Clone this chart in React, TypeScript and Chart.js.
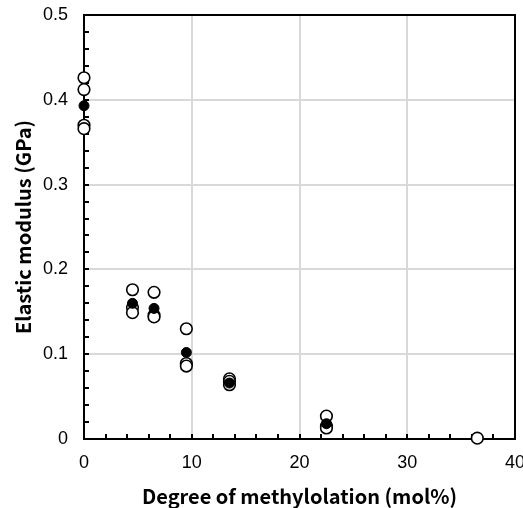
import React, { useEffect, useRef } from "react";
import { Chart, registerables } from "chart.js";

Chart.register(...registerables);

const openX = [0, 0, 0, 0, 4.5, 4.5, 4.5, 6.5, 6.5, 6.5, 9.5, 9.5, 9.5, 13.5, 13.5, 13.5, 22.5, 22.5, 22.5, 36.5];
const openY = [0.426, 0.412, 0.370, 0.366, 0.176, 0.155, 0.149, 0.173, 0.146, 0.144, 0.130, 0.089, 0.086, 0.071, 0.068, 0.064, 0.027, 0.015, 0.013, 0.001];
const filledX = [0, 4.5, 6.5, 9.5, 13.5, 22.5];
const filledY = [0.393, 0.160, 0.154, 0.102, 0.066, 0.018];

const xTitle = "Degree of methylolation (mol%)";
const yTitle = "Elastic modulus (GPa)";
const xRange = [0, 40];
const yRange = [0, 0.5];
const xMinorStep = 2;
const yMinorStep = 0.02;

const frame = {
  id: "frame",
  beforeDatasetsDraw(chart: any) {
    const { ctx, chartArea: a, scales } = chart;
    ctx.save();
    ctx.strokeStyle = "#000";
    ctx.lineWidth = 2;
    const xs = scales.x;
    const ys = scales.y;
    ctx.beginPath();
    for (let v = xRange[0]; v <= xRange[1] + 1e-9; v += xMinorStep) {
      const px = Math.round(xs.getPixelForValue(v));
      ctx.moveTo(px, a.bottom);
      ctx.lineTo(px, a.bottom - 5);
    }
    for (let v = yRange[0]; v <= yRange[1] + 1e-9; v += yMinorStep) {
      const py = Math.round(ys.getPixelForValue(v));
      ctx.moveTo(a.left, py);
      ctx.lineTo(a.left + 5, py);
    }
    ctx.stroke();
    ctx.strokeRect(a.left, a.top, a.right - a.left, a.bottom - a.top);
    ctx.restore();
  },
};

export default function App() {
  const ref = useRef<HTMLCanvasElement>(null);
  useEffect(() => {
    document.body.style.margin = "0";
    const chart = new Chart(ref.current!, {
      type: "scatter",
      data: {
        datasets: [
          {
            label: "filled",
            data: filledX.map((x, i) => ({ x, y: filledY[i] })),
            pointRadius: 5,
            pointBackgroundColor: "#000",
            pointBorderColor: "#000",
            pointBorderWidth: 1,
            order: 0,
            clip: false as any,
          },
          {
            label: "open",
            data: openX.map((x, i) => ({ x, y: openY[i] })),
            pointRadius: 5.8,
            pointBackgroundColor: "#fff",
            pointBorderColor: "#000",
            pointBorderWidth: 1.6,
            order: 1,
            clip: false as any,
          },
        ],
      },
      plugins: [frame],
      options: {
        animation: false,
        responsive: false,
        devicePixelRatio: 1,
        layout: { padding: { top: 15, right: 8, left: 0, bottom: 0 } },
        plugins: { legend: { display: false }, tooltip: { enabled: false } },
        scales: {
          x: {
            type: "linear",
            min: xRange[0],
            max: xRange[1],
            ticks: { stepSize: 10, color: "#000", padding: 13, font: { family: "Liberation Sans", size: 18 } },
            grid: { color: "#d9d9d9", lineWidth: 2, drawTicks: false },
            border: { display: false },
            title: { display: true, text: xTitle, color: "#000", font: { family: "Noto Sans CJK JP", size: 20, weight: "bold" }, padding: { top: 0, bottom: 0 } },
            afterFit(s: any) {
              s.height = 69;
              s.paddingLeft = 0;
              s.paddingRight = 0;
            },
          },
          y: {
            type: "linear",
            min: yRange[0],
            max: yRange[1],
            ticks: { stepSize: 0.1, color: "#000", padding: 16, font: { family: "Liberation Sans", size: 18 } },
            grid: { color: "#d9d9d9", lineWidth: 2, drawTicks: false },
            border: { display: false },
            title: { display: true, text: yTitle, color: "#000", font: { family: "Noto Sans CJK JP", size: 20, weight: "bold" }, padding: { top: 11, bottom: 0 } },
            afterFit(s: any) {
              s.width = 84;
              s.paddingTop = 0;
              s.paddingBottom = 0;
            },
          },
        },
      },
    });
    return () => chart.destroy();
  }, []);
  return (
    <div style={{ position: "absolute", left: 0, top: 0, width: 523, height: 508 }}>
      <canvas ref={ref} width={523} height={508} style={{ width: 523, height: 508 }} />
    </div>
  );
}
